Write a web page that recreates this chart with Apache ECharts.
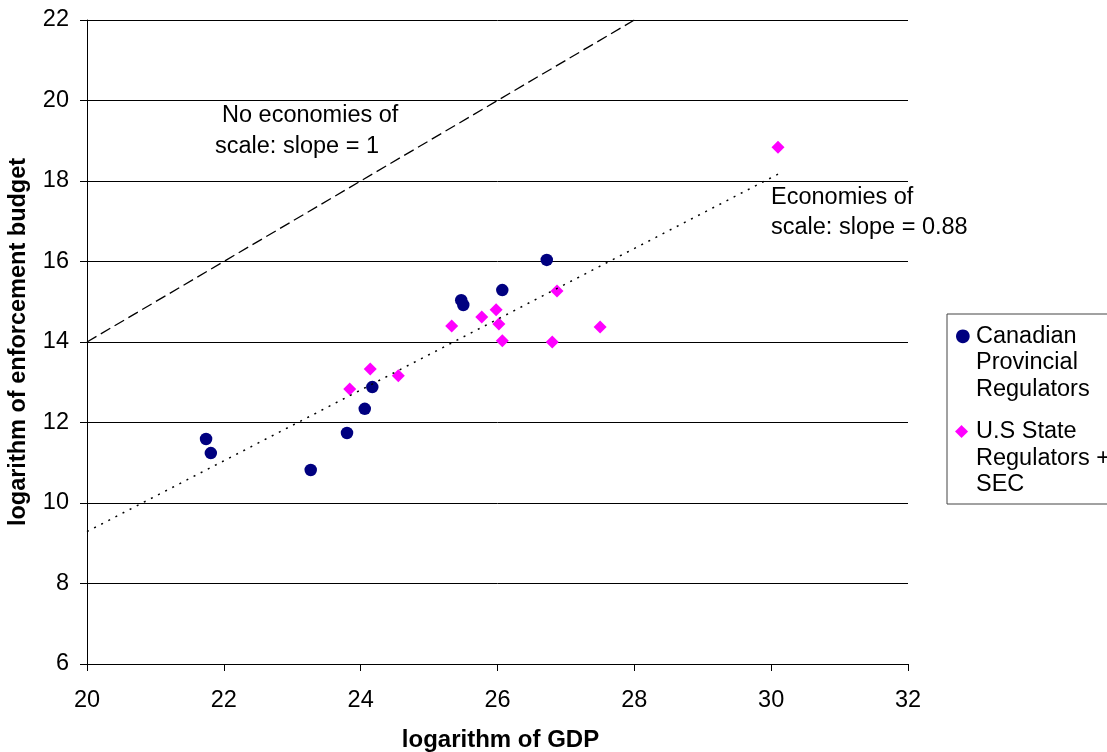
<!DOCTYPE html>
<html>
<head>
<meta charset="utf-8">
<title>Enforcement budget vs GDP</title>
<script src="https://cdn.jsdelivr.net/npm/echarts@6/dist/echarts.min.js"></script>
<style>
  html, body { margin: 0; padding: 0; background: #fff; }
  #chart { width: 1107px; height: 752px; }
</style>
</head>
<body>
<div id="chart"></div>
<script>
// Canadian provincial regulators: log GDP vs log enforcement budget
const canadaGdp    = [21.74, 21.81, 23.27, 23.80, 24.06, 24.17, 25.47, 25.50, 26.07, 26.72];
const canadaBudget = [11.59, 11.24, 10.82, 11.74, 12.34, 12.88, 15.04, 14.92, 15.29, 16.04];

// U.S. state regulators plus the SEC
const usGdp    = [23.84, 24.14, 24.55, 25.33, 25.77, 25.98, 26.02, 26.07, 26.80, 26.87, 27.50, 30.10];
const usBudget = [12.83, 13.33, 13.16, 14.40, 14.62, 14.80, 14.45, 14.03, 14.00, 15.27, 14.37, 18.84];

// Reference line with slope 1 and fitted line with slope 0.88 (end points)
const slopeOneX = [20, 28];
const slopeOneY = [14, 22];
const fitX = [20, 30.1];
const fitY = [9.29, 18.17];

// Axis ranges and tick steps
const xMin = 20, xMax = 32, xStep = 2;
const yMin = 6,  yMax = 22, yStep = 2;

const seriesNames = ['Canadian Provincial Regulators', 'U.S State Regulators + SEC'];
const legendLines = {
  'Canadian Provincial Regulators': ['Canadian', 'Provincial', 'Regulators'],
  'U.S State Regulators + SEC': ['U.S State', 'Regulators +', 'SEC']
};

const zip = (xs, ys) => xs.map((x, i) => [x, ys[i]]);

const FONT = '"Liberation Sans", Arial, sans-serif';
const FS = 23.5;
const chart = echarts.init(document.getElementById('chart'), null, { renderer: 'canvas' });

chart.setOption({
  animation: false,
  backgroundColor: '#fff',
  textStyle: { fontFamily: FONT },
  grid: { left: 87, right: 199, top: 20, bottom: 88, containLabel: false, outerBoundsMode: 'none' },
  xAxis: {
    type: 'value', min: xMin, max: xMax, interval: xStep,
    name: 'logarithm of GDP', nameLocation: 'middle', nameGap: 64,
    nameTextStyle: { fontSize: 24, fontWeight: 'bold', color: '#000', fontFamily: FONT, padding: [0, 0, 0, 6] },
    axisLine: { show: true, onZero: false, lineStyle: { color: '#000', width: 1 } },
    axisTick: { show: true, inside: false, length: 7, lineStyle: { color: '#000' } },
    axisLabel: { fontSize: FS, color: '#000', margin: 25, fontFamily: FONT },
    splitLine: { show: false }
  },
  yAxis: {
    type: 'value', min: yMin, max: yMax, interval: yStep,
    name: 'logarithm of enforcement budget', nameLocation: 'middle', nameGap: 56,
    nameTextStyle: { fontSize: FS, fontWeight: 'bold', color: '#000', fontFamily: FONT },
    axisLine: { show: true, onZero: false, lineStyle: { color: '#000', width: 1 } },
    axisTick: { show: true, inside: false, length: 7, lineStyle: { color: '#000' } },
    axisLabel: { fontSize: FS, color: '#000', margin: 18, fontFamily: FONT },
    splitLine: { show: true, lineStyle: { color: '#000', width: 1 } }
  },
  legend: {
    data: seriesNames,
    orient: 'vertical',
    left: 947, top: 314,
    itemWidth: 0, itemHeight: 0, itemGap: 16,
    padding: [9, 80, 6, 3],
    borderColor: '#444', borderWidth: 1, backgroundColor: '#fff',
    selectedMode: false,
    formatter: name => {
      const lines = legendLines[name];
      const mark = name === seriesNames[0] ? '{c|●}' : '{d|◆}';
      return mark + '{t|' + lines[0] + '}\n' +
        lines.slice(1).map(l => '{sp|}{t|' + l + '}').join('\n');
    },
    textStyle: {
      fontSize: FS, color: '#000', lineHeight: 26.5, fontFamily: FONT,
      rich: {
        t:  { fontSize: FS, color: '#000', lineHeight: 26.5, fontFamily: FONT },
        c:  { fontSize: 18, color: '#000080', lineHeight: 26.5, width: 21, fontFamily: '"DejaVu Sans"' },
        d:  { fontSize: 17, color: '#FF00FF', lineHeight: 26.5, width: 21, fontFamily: '"DejaVu Sans"' },
        sp: { fontSize: FS, lineHeight: 26.5, width: 21 }
      }
    }
  },
  graphic: [
    { type: 'text', left: 222, top: 104, silent: true,
      style: { text: 'No economies of', fontSize: FS, fill: '#000', fontFamily: FONT } },
    { type: 'text', left: 215, top: 135, silent: true,
      style: { text: 'scale: slope = 1', fontSize: FS, fill: '#000', fontFamily: FONT } },
    { type: 'text', left: 771, top: 186, silent: true,
      style: { text: 'Economies of', fontSize: FS, fill: '#000', fontFamily: FONT } },
    { type: 'text', left: 771, top: 216, silent: true,
      style: { text: 'scale: slope = 0.88', fontSize: FS, fill: '#000', fontFamily: FONT } }
  ],
  series: [
    {
      name: seriesNames[0], type: 'scatter', symbol: 'circle', symbolSize: 12.5,
      itemStyle: { color: '#000080', opacity: 1 },
      data: zip(canadaGdp, canadaBudget), z: 3
    },
    {
      name: seriesNames[1], type: 'scatter', symbol: 'diamond', symbolSize: 13,
      itemStyle: { color: '#FF00FF', opacity: 1 },
      data: zip(usGdp, usBudget), z: 3
    },
    {
      name: 'slope one', type: 'line', symbol: 'none', silent: true,
      lineStyle: { color: '#000', width: 1.3, type: [11, 5] },
      data: zip(slopeOneX, slopeOneY), z: 4
    },
    {
      name: 'fit', type: 'line', symbol: 'none', silent: true,
      lineStyle: { color: '#000', width: 1.5, type: [2, 6] },
      data: zip(fitX, fitY), z: 4
    }
  ]
});
</script>
</body>
</html>
